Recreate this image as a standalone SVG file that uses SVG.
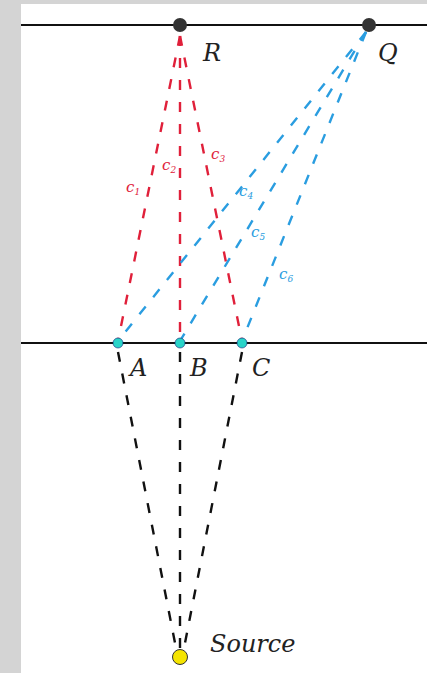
<svg xmlns="http://www.w3.org/2000/svg" width="427" height="673" viewBox="0 0 427 673">
<style>
.lbl{font-family:"DejaVu Serif","Liberation Serif",serif;font-style:italic;font-size:24px;fill:#222}
.c{font-family:"DejaVu Serif","Liberation Serif",serif;font-style:italic;font-size:15px}
.sub{font-size:9px}
.red{stroke:#e0203a;stroke-width:2.4;stroke-dasharray:10 12;fill:none}
.blue{stroke:#2a9de0;stroke-width:2.4;stroke-dasharray:10 12;fill:none}
.blk{stroke:#111;stroke-width:2.4;stroke-dasharray:10 12;fill:none}
.line{stroke:#111;stroke-width:2.2}
</style>
<rect width="427" height="673" fill="#d4d4d4"/>
<rect x="21" y="4" width="406" height="669" fill="#fff"/>
<g id="lines">
<line class="line" x1="21" y1="25" x2="427" y2="25"/>
<line class="line" x1="21" y1="343" x2="427" y2="343"/>
</g>
<g id="connectors">
<line class="red" x1="180" y1="36" x2="118" y2="341"/>
<line class="red" x1="180" y1="36" x2="180" y2="341"/>
<line class="red" x1="180" y1="36" x2="242" y2="341"/>
<line class="blue" x1="366" y1="32" x2="118" y2="341"/>
<line class="blue" x1="366" y1="32" x2="180" y2="341"/>
<line class="blue" x1="366" y1="32" x2="242" y2="341"/>
<line class="blk" x1="118" y1="352" x2="176" y2="648"/>
<line class="blk" x1="180" y1="352" x2="180" y2="648"/>
<line class="blk" x1="242" y1="352" x2="184" y2="648"/>
</g>
<g id="labels-c">
<text class="c" x="126" y="192" fill="#e0203a">c<tspan class="sub" dy="3">1</tspan></text>
<text class="c" x="162" y="170" fill="#e0203a">c<tspan class="sub" dy="3">2</tspan></text>
<text class="c" x="211" y="159" fill="#e0203a">c<tspan class="sub" dy="3">3</tspan></text>
<text class="c" x="239" y="196" fill="#2a9de0">c<tspan class="sub" dy="3">4</tspan></text>
<text class="c" x="251" y="237" fill="#2a9de0">c<tspan class="sub" dy="3">5</tspan></text>
<text class="c" x="279" y="279" fill="#2a9de0">c<tspan class="sub" dy="3">6</tspan></text>
</g>
<g id="R"><circle cx="180" cy="25" r="7" fill="#333"/><text class="lbl" x="203" y="61">R</text></g>
<g id="Q"><circle cx="369" cy="25" r="7" fill="#333"/><text class="lbl" x="378" y="61">Q</text></g>
<g id="A"><circle cx="118" cy="343" r="5" fill="#2ad4c8" stroke="#127" stroke-width="0.6"/><text class="lbl" x="130" y="376">A</text></g>
<g id="B"><circle cx="180" cy="343" r="5" fill="#2ad4c8" stroke="#127" stroke-width="0.6"/><text class="lbl" x="190" y="376">B</text></g>
<g id="C"><circle cx="242" cy="343" r="5" fill="#2ad4c8" stroke="#127" stroke-width="0.6"/><text class="lbl" x="252" y="376">C</text></g>
<g id="Source"><circle cx="180" cy="657" r="7.5" fill="#f5e400" stroke="#333" stroke-width="1"/><text class="lbl" x="210" y="652" font-size="27">Source</text></g>
</svg>
